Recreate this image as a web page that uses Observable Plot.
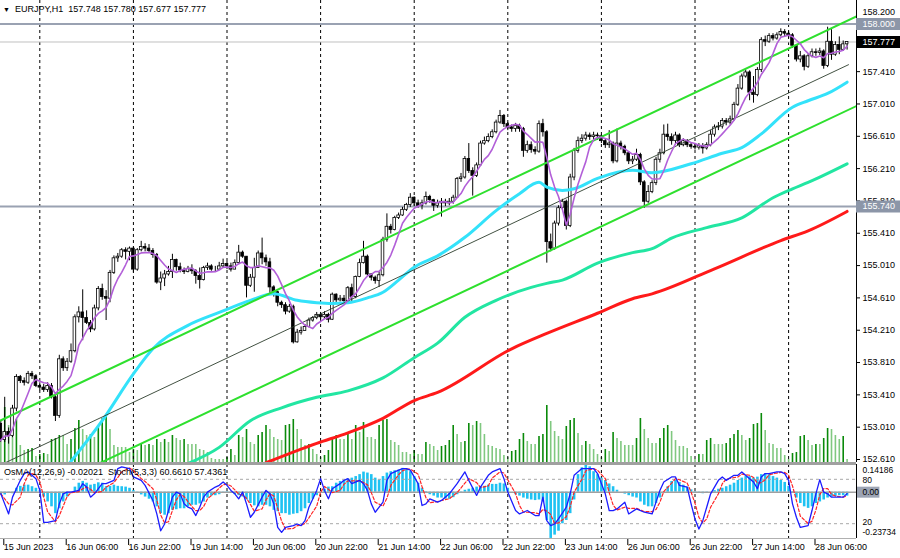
<!DOCTYPE html>
<html><head><meta charset="utf-8">
<script src="https://cdn.jsdelivr.net/npm/d3@7"></script>
<script src="https://cdn.jsdelivr.net/npm/@observablehq/plot@0.6"></script>
<style>
body{margin:0;background:#fff;}
#wrap{position:relative;width:900px;height:558px;overflow:hidden;background:#fff;font-family:"Liberation Sans",Arial,sans-serif;}
#wrap > svg{position:absolute;left:0;}
.hdr{position:absolute;font-size:9px;line-height:11px;color:#000;white-space:pre;font-family:"Liberation Sans",Arial,sans-serif;}
</style></head><body>
<div id="wrap">
<div class="hdr" id="h1" style="left:3px;top:4px;"><span style="font-size:7px;">&#9660;</span>  EURJPY,H1  157.748 157.780 157.677 157.777</div>
<div class="hdr" id="h2" style="left:4px;top:467px;">OsMA(12,26,9) -0.02021  Stoch(5,3,3) 60.6610 57.4361</div>
</div>
<script>
// ---- H1 bars, index 0 = 15 Jun 2023 14:00 ----
const firstOpen = 153.05;
const closes = [
152.85,152.95,152.90,153.24,153.63,153.58,153.56,153.67,153.64,153.52,
153.50,153.47,153.52,153.38,153.15,153.85,153.74,153.82,153.95,154.37,
154.43,154.36,154.30,154.22,154.48,154.72,154.62,154.60,154.92,155.10,
155.12,155.20,155.18,155.22,154.96,155.20,155.24,155.22,155.19,155.14,
154.80,154.85,154.90,154.93,155.08,154.99,154.95,154.93,154.97,154.94,
154.88,154.83,154.98,155.00,154.96,154.96,155.00,155.03,155.00,154.96,
155.04,155.17,155.12,154.76,154.86,154.98,155.16,155.10,155.05,154.74,
154.68,154.55,154.52,154.44,154.50,154.06,154.18,154.20,154.25,154.33,
154.36,154.40,154.37,154.40,154.34,154.65,154.58,154.60,154.57,154.73,
154.62,154.87,155.04,155.12,154.90,154.86,154.82,154.89,155.33,155.49,
155.45,155.60,155.63,155.70,155.76,155.85,155.78,155.75,155.78,155.86,
155.82,155.75,155.78,155.80,155.78,155.80,155.85,156.08,156.10,156.33,
156.18,156.12,156.25,156.52,156.55,156.60,156.66,156.78,156.86,156.76,
156.72,156.70,156.74,156.70,156.43,156.50,156.44,156.42,156.76,156.66,
155.30,155.22,155.53,155.72,155.80,155.50,156.10,156.43,156.55,156.58,
156.62,156.60,156.62,156.61,156.55,156.50,156.52,156.30,156.52,156.48,
156.40,156.30,156.32,156.38,156.04,155.80,155.92,156.03,156.32,156.40,
156.63,156.60,156.55,156.62,156.50,156.55,156.50,156.48,156.47,156.49,
156.46,156.50,156.63,156.72,156.73,156.80,156.78,156.82,157.00,157.20,
157.35,157.40,157.15,157.12,157.43,157.80,157.78,157.85,157.82,157.86,
157.90,157.88,157.86,157.73,157.56,157.60,157.47,157.60,157.65,157.64,
157.66,157.48,157.78,157.62,157.74,157.68,157.748,157.777];
const highs = [
153.08,153.38,153.00,153.28,153.66,153.65,153.62,153.70,153.70,153.66,
153.56,153.54,153.56,153.55,153.40,153.90,153.88,153.86,154.04,154.40,
154.50,154.71,154.45,154.33,154.52,154.75,154.78,154.70,154.95,155.13,
155.16,155.22,155.23,155.24,155.24,155.22,155.31,155.28,155.27,155.22,
155.16,154.93,154.95,155.00,155.15,155.09,155.04,154.98,155.00,155.02,
154.96,154.98,155.00,155.04,155.02,155.00,155.05,155.09,155.06,155.04,
155.08,155.26,155.19,155.12,154.90,155.10,155.19,155.35,155.14,155.10,
154.76,154.69,154.57,154.55,154.53,154.52,154.22,154.25,154.28,154.36,
154.38,154.43,154.43,154.44,154.42,154.67,154.66,154.64,154.64,154.75,
154.78,154.88,155.09,155.31,155.14,154.91,154.88,154.93,155.36,155.65,
155.52,155.62,155.66,155.73,155.78,155.90,155.86,155.82,155.82,155.92,
155.88,155.83,155.82,155.84,155.83,155.84,155.88,156.10,156.15,156.36,
156.52,156.22,156.28,156.55,156.60,156.64,156.69,156.81,156.93,156.88,
156.78,156.75,156.77,156.76,156.72,156.55,156.54,156.48,156.80,156.82,
156.68,155.40,155.56,155.75,155.83,155.82,156.14,156.46,156.60,156.63,
156.66,156.65,156.66,156.65,156.63,156.58,156.68,156.54,156.70,156.55,
156.50,156.42,156.36,156.45,156.40,156.06,156.00,156.06,156.35,156.45,
156.75,156.76,156.64,156.66,156.64,156.58,156.57,156.53,156.52,156.52,
156.52,156.53,156.68,156.75,156.78,156.83,156.83,156.86,157.03,157.25,
157.38,157.43,157.42,157.35,157.46,157.83,157.85,157.88,157.88,157.89,
157.94,157.93,157.91,157.88,157.74,157.66,157.62,157.63,157.69,157.69,
157.70,157.68,157.96,157.93,157.78,157.84,157.79,157.78];
const lows = [
152.82,152.82,152.80,152.88,153.20,153.55,153.52,153.54,153.60,153.50,
153.46,153.44,153.44,153.36,153.08,153.12,153.70,153.70,153.80,153.93,
154.30,154.08,154.28,154.18,154.20,154.45,154.58,154.33,154.55,154.90,
155.05,155.10,155.08,155.07,154.92,154.94,155.18,155.18,155.16,155.10,
154.78,154.70,154.75,154.88,154.85,154.94,154.92,154.90,154.92,154.90,
154.78,154.72,154.82,154.95,154.94,154.93,154.95,154.98,154.96,154.93,
154.96,155.02,155.10,154.61,154.74,154.68,154.98,155.02,155.00,154.64,
154.62,154.50,154.48,154.40,154.42,154.04,154.05,154.15,154.20,154.24,
154.31,154.34,154.34,154.35,154.30,154.33,154.54,154.56,154.54,154.56,
154.56,154.60,154.86,155.03,154.88,154.82,154.78,154.74,154.87,155.30,
155.40,155.44,155.58,155.62,155.68,155.73,155.74,155.72,155.70,155.76,
155.78,155.68,155.72,155.61,155.74,155.75,155.77,155.84,156.04,156.08,
156.15,155.87,156.10,156.24,156.50,156.53,156.58,156.64,156.76,156.72,
156.68,156.66,156.66,156.66,156.35,156.40,156.40,156.38,156.40,156.60,
155.04,155.18,155.20,155.50,155.70,155.45,155.48,156.06,156.40,156.52,
156.55,156.56,156.57,156.56,156.52,156.46,156.46,156.27,156.28,156.44,
156.37,156.26,156.26,156.30,156.00,155.72,155.78,155.90,156.00,156.28,
156.38,156.55,156.50,156.52,156.47,156.48,156.47,156.45,156.44,156.44,
156.39,156.44,156.48,156.60,156.68,156.70,156.74,156.75,156.80,156.98,
157.18,157.33,157.05,157.02,157.10,157.40,157.72,157.76,157.79,157.80,
157.84,157.84,157.82,157.70,157.53,157.52,157.42,157.45,157.58,157.60,
157.61,157.44,157.46,157.55,157.60,157.62,157.66,157.677];
// tick volume (relative units)
const volumes = [
20,55,37,33,43,17,12,13,14,6, 8,9,8,23,24,27,27,18,23,34,
42,33,27,28,25,35,44,47,33,17, 15,15,15,10,13,12,18,17,18,17,
23,20,23,20,27,24,22,23,18,18, 18,13,12,10,4,3,3,3,5,13,
7,27,25,33,20,18,27,30,37,33, 25,23,22,37,38,43,33,23,17,18,
13,8,5,7,12,23,27,23,23,28, 23,37,30,40,25,25,23,37,42,43,
22,20,17,10,10,8,12,8,8,20, 18,16,12,16,17,22,37,28,20,21,
39,37,41,39,28,17,16,14,13,7, 5,11,12,23,29,21,18,18,26,28,
57,41,31,26,23,36,42,44,29,17, 21,18,13,8,5,13,11,30,24,21,
17,17,17,24,44,33,24,19,19,24, 34,37,31,22,16,16,14,6,3,8,
8,22,24,18,18,18,19,24,28,32, 27,22,24,38,39,49,32,19,18,14,
14,7,3,9,10,26,27,22,17,18, 18,24,34,33,27,23,26,3];
const osma = [
-0.015,-0.014,-0.005,-0.008,0.02,0.03,0.036,0.036,0.028,0.02,
0.008,-0.025,-0.05,-0.075,-0.11,-0.085,-0.05,-0.025,-0.005,0.026,
0.046,0.055,0.046,0.036,0.04,0.048,0.046,0.028,0.03,0.036,
0.03,0.028,0.026,0.02,0.008,-0.005,-0.014,-0.025,-0.036,-0.05,
-0.075,-0.11,-0.118,-0.11,-0.093,-0.09,-0.085,-0.085,-0.075,-0.067,
-0.067,-0.06,-0.05,-0.03,-0.02,-0.018,-0.013,-0.005,0.003,-0.005,
-0.013,-0.018,-0.025,-0.04,-0.058,-0.07,-0.075,-0.067,-0.067,-0.075,
-0.093,-0.1,-0.11,-0.11,-0.118,-0.113,-0.11,-0.1,-0.085,-0.058,
-0.036,-0.018,-0.005,0.015,0.026,0.028,0.046,0.055,0.06,0.067,
0.072,0.08,0.09,0.103,0.098,0.09,0.072,0.062,0.08,0.098,
0.105,0.11,0.113,0.122,0.117,0.105,0.08,0.046,0.02,0.003,
-0.013,-0.02,-0.03,-0.03,-0.036,-0.036,-0.028,-0.013,0.002,0.01,
0.015,0.02,0.026,0.028,0.03,0.036,0.04,0.04,0.046,0.042,
0.02,0,-0.013,-0.02,-0.03,-0.036,-0.04,-0.043,-0.04,-0.05,
-0.145,-0.237,-0.22,-0.2,-0.162,-0.145,-0.11,-0.04,0.09,0.125,
0.1418,0.13,0.105,0.09,0.072,0.06,0.042,0.028,0.01,0,
-0.01,-0.018,-0.025,-0.03,-0.05,-0.067,-0.075,-0.075,-0.058,-0.03,
-0.005,0.028,0.055,0.06,0.05,0.036,0.026,0.012,0.003,-0.005,
-0.008,-0.005,0,0.008,0.015,0.02,0.028,0.036,0.046,0.06,
0.072,0.08,0.08,0.072,0.077,0.09,0.095,0.09,0.08,0.072,
0.06,0.05,0.03,0.003,-0.03,-0.058,-0.075,-0.083,-0.075,-0.058,
-0.05,-0.04,-0.03,-0.025,-0.022,-0.018,-0.018,-0.02021];
// Stochastic %K read at bar positions
const stochBars = [0,1,2,3,5,6,7,8,9,10,11,12,14,15,16,17,18,20,21,22,23,24,26,27,29,30,31,33,34,35,36,37,39,40,41,42,43,44,45,46,47,48,49,50,51,52,53,55,56,57,58,59,60,61,62,63,64,65,67,68,69,70,71,72,73,75,76,77,78,79,81,82,83,84,85,87,88,89,90,92,93,94,95,96,98,99,100,102,103,104,105,107,108,109,110,112,113,115,
117,119,120,122,123,125,126,128,129,130,132,133,134,135,137,138,139,140,141,142,143,145,146,147,149,150,152,153,155,156,157,158,160,161,163,165,167,168,169,170,172,173,174,176,177,178,179,180,181,182,184,185,186,188,189,190,192,193,194,195,196,197,199,200,201,202,203,204,205,207,208,209,210,211,212,213,214,216,217];
const stochK = [60.4,46.8,33.2,55.9,78.6,87.7,90.0,85.4,80.9,65.0,21.8,21.8,24.1,46.8,60.4,62.7,62.7,65.0,74.1,69.5,55.9,60.4,74.1,74.1,78.6,94.5,96.8,94.5,83.2,80.9,78.6,71.8,51.4,33.2,10.5,19.6,37.8,55.9,62.7,60.4,46.8,42.3,40.0,31.0,42.3,55.9,62.7,69.5,71.8,76.3,71.8,65.0,60.4,53.6,62.7,46.8,28.7,35.5,55.9,65.0,60.4,46.8,15.0,8.2,15.0,17.3,19.6,17.3,24.1,42.3,65.0,80.9,65.0,53.6,67.3,74.1,78.6,80.9,74.1,78.6,74.1,65.0,46.8,35.5,49.1,78.6,87.7,92.3,94.5,94.5,92.3,74.1,44.6,46.8,53.6,49.1,51.4,60.4,
74.1,90.0,78.6,58.2,69.5,85.4,90.0,94.5,80.9,62.7,37.8,33.2,35.5,37.8,31.0,31.0,55.9,24.1,17.3,19.6,26.4,42.3,60.4,85.4,94.5,94.5,94.5,87.7,60.4,37.8,37.8,40.0,49.1,33.2,40.0,35.5,33.2,49.1,65.0,76.3,83.2,83.2,71.8,69.5,46.8,26.4,12.8,24.1,42.3,60.4,78.6,83.2,78.6,85.4,85.4,90.0,80.9,76.3,67.3,83.2,87.7,87.7,90.0,90.0,87.7,78.6,46.8,28.7,15.0,17.3,37.8,60.4,79.5,62.7,60.4,55.9,55.9,55.9,60.66];
// Moving averages (bar, price)
const cyanBars = [15,26,34,39,48,56,64,70,76,81,85,89,94,98,102,106,112,119,127,133,138,140,144,147,153,162,167,177,185,190,195,203,207,212,217];
const cyanVals = [152.41,153.09,153.67,153.98,154.27,154.43,154.58,154.66,154.58,154.55,154.54,154.55,154.61,154.68,154.83,154.99,155.13,155.36,155.69,155.90,156.04,155.98,155.94,155.96,156.09,156.19,156.16,156.27,156.40,156.47,156.64,156.97,157.05,157.14,157.28];
const springBars = [48,56,64,72,81,89,98,106,112,119,127,136,140,144,153,162,167,172,181,190,198,203,207,217];
const springVals = [152.56,152.76,153.09,153.25,153.38,153.46,153.62,153.87,154.05,154.37,154.58,154.74,154.79,154.83,155.04,155.17,155.22,155.35,155.48,155.60,155.85,155.96,156.04,156.27];
const redBars = [68,81,89,98,106,112,131,140,153,162,167,183,200,207,217];
const redVals = [152.57,152.81,152.94,153.12,153.34,153.44,153.98,154.17,154.42,154.60,154.66,154.97,155.32,155.44,155.68];
// Equidistant channel (bar, price) end points
const channelBars = [-0.08, 219.41];
const upperVals = [153.093, 158.093];
const lowerVals = [151.985, 156.985];
const midBars = [-0.08, 217.36];
const midVals = [152.542, 157.496];
const gridBars = [10,34,58,82,106,130,154,178,202];
const dateBars = [0,16,32,48,64,80,96,112,128,144,160,176,192,208];
const dateLabels = ["15 Jun 2023","16 Jun 06:00","16 Jun 22:00","19 Jun 14:00","20 Jun 06:00","20 Jun 22:00","21 Jun 14:00","22 Jun 06:00","22 Jun 22:00","23 Jun 14:00","26 Jun 06:00","26 Jun 22:00","27 Jun 14:00","28 Jun 06:00"];
const priceTicks = [152.61,153.01,153.41,153.81,154.21,154.61,155.01,155.41,155.81,156.21,156.61,157.01,157.41];
const levels = [158.000, 155.740];
const bid = 157.777;
const topPrice = 158.200;
const osmaMax = 0.14186, osmaMin = -0.23734;
const stochLevels = [80, 20];

const xDomain = [-0.08, 219.41];
const yDomain = [152.5729, 158.2906];
const xMax = xDomain[1];

const bars = closes.map((c, i) => ({i, open: i ? closes[i-1] : firstOpen, high: highs[i], low: lows[i], close: c}));
const pts = (b, v) => b.map((x, j) => ({i: x, p: v[j]}));
const volData = volumes.map((v, i) => ({i, v, up: i > 0 && v > volumes[i-1]}));
const osmaData = osma.map((v, i) => ({i, v}));
const stoch = stochBars.map((b, j) => ({i: b, k: stochK[j]}));

const baseStyle = {background: "transparent", fontFamily: "Liberation Sans, Arial, sans-serif", fontSize: "9px", overflow: "visible", color: "#000"};
const wrap = document.getElementById("wrap");
function place(svg, top) { svg.style.position = "absolute"; svg.style.left = "0px"; svg.style.top = top + "px"; wrap.insertBefore(svg, document.getElementById("h1")); }

// volume layer
const vol = Plot.plot({
  width: 900, height: 462, marginLeft: 0, marginRight: 44, marginTop: 0, marginBottom: 0,
  style: baseStyle,
  x: {domain: xDomain, axis: null, label: null},
  y: {domain: [0, 462], axis: null, label: null},
  marks: [
    Plot.ruleX(volData, {x: "i", y1: 0, y2: "v", stroke: d => d.up ? "#0a8a0a" : "#80c880", strokeWidth: 1.6})
  ]
});
place(vol, 0);

// price layer
const main = Plot.plot({
  width: 900, height: 462, marginLeft: 0, marginRight: 44, marginTop: 0, marginBottom: 0,
  style: baseStyle,
  x: {domain: xDomain, axis: null, label: null},
  y: {domain: yDomain, label: null},
  marks: [
    Plot.ruleX(gridBars, {stroke: "#000", strokeDasharray: "3,3", strokeWidth: 1}),
    Plot.ruleY([bid], {stroke: "#c0c0c0", strokeWidth: 1}),
    Plot.ruleY(levels, {stroke: "#9aa2b2", strokeWidth: 2}),
    Plot.ruleX(bars, {x: "i", y1: "low", y2: "high", stroke: "#000", strokeWidth: 1}),
    Plot.rect(bars, {x1: d => d.i - 0.34, x2: d => d.i + 0.34, y1: "open", y2: "close", fill: d => d.close >= d.open ? "#ffffff" : "#000000", stroke: "#000", strokeWidth: 0.8}),
    Plot.line(pts(redBars, redVals), {x: "i", y: "p", stroke: "#ff1a1a", strokeWidth: 3, curve: "monotone-x", clip: true}),
    Plot.line(pts(springBars, springVals), {x: "i", y: "p", stroke: "#22e6a2", strokeWidth: 3, curve: "monotone-x", clip: true}),
    Plot.line(pts(cyanBars, cyanVals), {x: "i", y: "p", stroke: "#33e2fa", strokeWidth: 3, curve: "monotone-x", clip: true}),
    Plot.line(pts(channelBars, upperVals), {x: "i", y: "p", stroke: "#2ee02e", strokeWidth: 2, clip: true}),
    Plot.line(pts(channelBars, lowerVals), {x: "i", y: "p", stroke: "#2ee02e", strokeWidth: 2, clip: true}),
    Plot.line(pts(midBars, midVals), {x: "i", y: "p", stroke: "#2d3d2d", strokeWidth: 0.9, clip: true}),
    Plot.lineY(bars, Plot.windowY({k: 6, anchor: "end"}, {x: "i", y: "close", stroke: "#b25fd8", strokeWidth: 1.6})),
    Plot.ruleX([xMax], {stroke: "#000", strokeWidth: 1}),
    Plot.axisY({anchor: "right", ticks: priceTicks, tickFormat: d3.format(".3f"), tickSize: 3, tickPadding: 3, label: null}),
    Plot.text([topPrice], {y: d => d, frameAnchor: "right", dx: 6, dy: 4, textAnchor: "start", text: d => d.toFixed(3)}),
    Plot.ruleY(levels, {y: d => d, x1: xMax, x2: xMax + 11.5, stroke: "#8c96a8", strokeWidth: 12}),
    Plot.text(levels, {y: d => d, frameAnchor: "right", dx: 6, textAnchor: "start", fill: "#fff", text: d => d.toFixed(3)}),
    Plot.ruleY([bid], {y: d => d, x1: xMax, x2: xMax + 11.5, stroke: "#000", strokeWidth: 12}),
    Plot.text([bid], {y: d => d, frameAnchor: "right", dx: 6, textAnchor: "start", fill: "#fff", text: d => d.toFixed(3)})
  ]
});
place(main, 0);

// OsMA layer with date axis
const osc1 = Plot.plot({
  width: 900, height: 96, marginLeft: 0, marginRight: 44, marginTop: 2, marginBottom: 20,
  style: baseStyle,
  x: {domain: xDomain, label: null},
  y: {domain: [osmaMin, osmaMax], label: null, axis: null},
  marks: [
    Plot.ruleX(gridBars, {stroke: "#000", strokeDasharray: "3,3", strokeWidth: 1}),
    Plot.ruleX(osmaData, {x: "i", y1: 0, y2: "v", stroke: "#1ec2f2", strokeWidth: 2.6}),
    Plot.ruleY([0], {stroke: "#a0a0a0", strokeWidth: 1.5}),
    Plot.axisX({anchor: "bottom", ticks: dateBars, tickFormat: d => dateLabels[dateBars.indexOf(d)], tickSize: 7, tickPadding: -2, textAnchor: "start", dx: 3, label: null}),
    Plot.text([osmaMax], {y: d => d, frameAnchor: "right", dx: 6, dy: 6, textAnchor: "start", fontSize: 8.5, text: d => d.toFixed(5)}),
    Plot.text([osmaMin], {y: d => d, frameAnchor: "right", dx: 6, dy: -6, textAnchor: "start", fontSize: 8.5, text: d => d.toFixed(5)}),
    Plot.ruleY([0], {y: d => d, x1: xMax + 0.2, x2: xMax + 6, stroke: "#9ca4b4", strokeWidth: 11}),
    Plot.text([0], {y: d => d, frameAnchor: "right", dx: 6, textAnchor: "start", fontSize: 8.5, text: d => d.toFixed(2)}),
    Plot.ruleX([xMax], {stroke: "#000", strokeWidth: 1})
  ]
});
place(osc1, 462);

// Stochastic layer
const osc2 = Plot.plot({
  width: 900, height: 96, marginLeft: 0, marginRight: 44, marginTop: 2, marginBottom: 20,
  style: baseStyle,
  x: {domain: xDomain, axis: null, label: null},
  y: {domain: [0, 100], axis: null, label: null},
  marks: [
    Plot.ruleY([100], {stroke: "#a0a0a0", strokeWidth: 3, dy: -1}),
    Plot.ruleY([0], {stroke: "#b0b0b0", strokeWidth: 1}),
    Plot.ruleY(stochLevels, {stroke: "#a8a8a8", strokeDasharray: "3,3", strokeWidth: 1}),
    Plot.lineY(stoch, Plot.windowY({k: 3, anchor: "end"}, {x: "i", y: "k", stroke: "#ff2424", strokeWidth: 1.2, strokeDasharray: "3,2"})),
    Plot.line(stoch, {x: "i", y: "k", stroke: "#1c1cff", strokeWidth: 1.3}),
    Plot.text([80], {y: d => d, frameAnchor: "right", dx: 6, dy: 1, textAnchor: "start", fontSize: 8.5, text: d => String(d)}),
    Plot.text([20], {y: d => d, frameAnchor: "right", dx: 6, dy: -1.5, textAnchor: "start", fontSize: 8.5, text: d => String(d)})
  ]
});
place(osc2, 462);
</script></body></html>
